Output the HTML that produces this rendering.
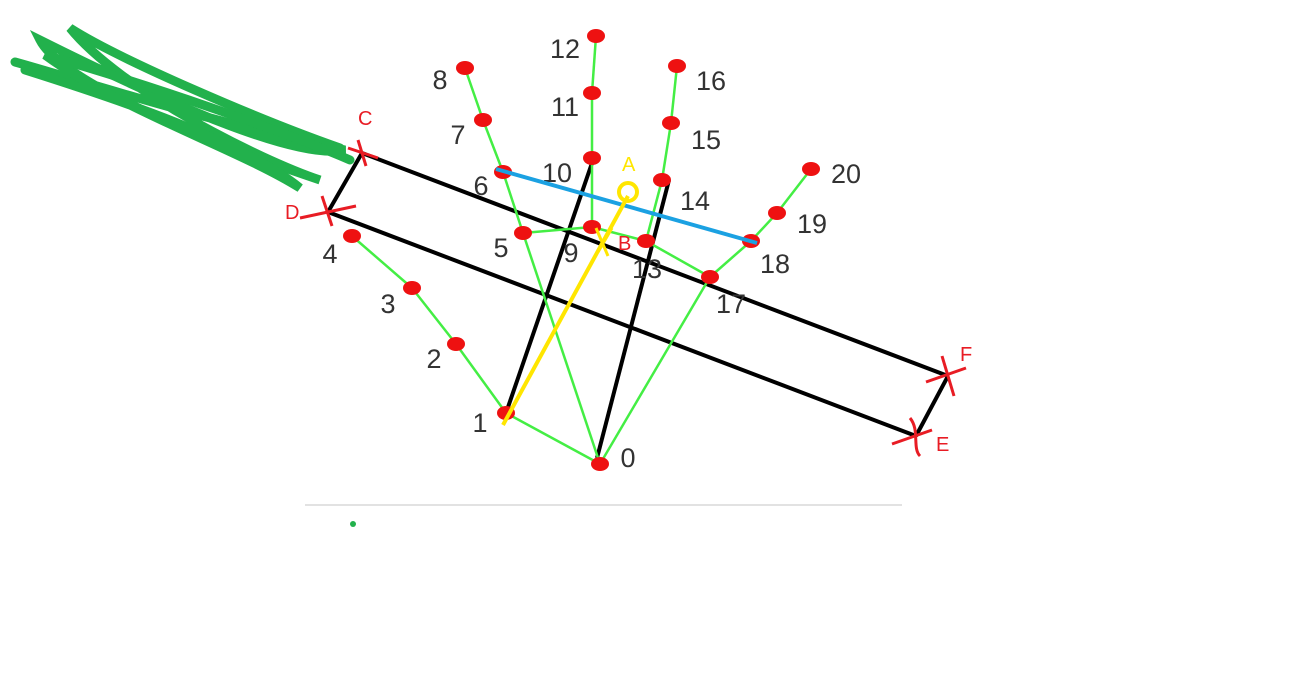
<!DOCTYPE html>
<html><head><meta charset="utf-8"><style>
html,body{margin:0;padding:0;background:#fff;}
svg{display:block;font-family:"Liberation Sans",sans-serif;}
</style></head><body>
<svg id="chart" width="1292" height="694" viewBox="0 0 1292 694">
<line x1="305" y1="505" x2="902" y2="505" stroke="#e2e2e2" stroke-width="2"/>
<circle cx="353" cy="524" r="3" fill="#22b14c"/>
<g id="scribble" fill="none" stroke="#22b14c" stroke-width="9" stroke-linecap="round">
<path d="M15,62 C80,80 200,120 345,150 C300,160 180,110 40,40 C60,80 200,140 320,180 C260,160 120,90 70,28 C120,60 260,120 340,148"/>
<path d="M25,70 C120,100 240,140 300,188 C240,150 120,110 45,55 C150,85 280,130 350,160"/>
</g>
<g stroke="#000" stroke-width="4">
<line x1="362" y1="153" x2="948" y2="376"/>
<line x1="328" y1="212" x2="916" y2="436"/>
<line x1="362" y1="153" x2="328" y2="212"/>
<line x1="948" y1="376" x2="916" y2="436"/>
<line x1="506" y1="413" x2="592" y2="163"/>
<line x1="597" y1="458" x2="669" y2="180"/>
</g>
<g id="bones"></g>
<g id="joints"></g>
<g id="labels"></g>
<line x1="496" y1="169" x2="757" y2="243" stroke="#1ba1e2" stroke-width="4"/>
<line x1="503" y1="425" x2="628" y2="196" stroke="#ffe600" stroke-width="4"/>
<circle cx="628" cy="192" r="9" fill="none" stroke="#ffe600" stroke-width="4"/>
<g stroke="#ffe600" stroke-width="3"><line x1="596" y1="228" x2="608" y2="256"/><line x1="612" y1="228" x2="598" y2="252"/></g>
<g stroke="#e81c24" stroke-width="3">
<line x1="348" y1="148" x2="378" y2="158"/><line x1="358" y1="140" x2="366" y2="166"/>
<line x1="300" y1="218" x2="356" y2="206"/><line x1="322" y1="196" x2="332" y2="226"/>
<line x1="926" y1="382" x2="966" y2="368"/><line x1="942" y1="356" x2="954" y2="396"/>
<line x1="892" y1="444" x2="932" y2="430"/><path d="M910,418 C920,430 912,448 920,456" fill="none"/>
</g>
<g font-size="20">
<text x="358" y="125" fill="#e81c24">C</text>
<text x="285" y="219" fill="#e81c24">D</text>
<text x="960" y="361" fill="#e81c24">F</text>
<text x="936" y="451" fill="#e81c24">E</text>
<text x="622" y="171" fill="#ffe600">A</text>
<text x="618" y="250" fill="#e81c24">B</text>
</g>
</svg>
<script>
const jointX=[600,506,456,412,352,523,503,483,465,592,592,592,596,646,662,671,677,710,751,777,811];
const jointY=[464,413,344,288,236,233,172,120,68,227,158,93,36,241,180,123,66,277,241,213,169];
const labelX=[628,480,434,388,330,501,481,458,440,571,557,565,565,647,695,706,711,731,775,812,846];
const labelY=[457,422,358,303,253,247,185,134,79,252,172,106,48,268,200,139,80,303,263,223,173];
const bonesA=[0,1,2,3,0,5,6,7,5,9,10,11,9,13,14,15,13,0,17,18,19];
const bonesB=[1,2,3,4,5,6,7,8,9,10,11,12,13,14,15,16,17,17,18,19,20];
const NS="http://www.w3.org/2000/svg";
const bg=document.getElementById('bones'),jg=document.getElementById('joints'),lg=document.getElementById('labels');
for(let i=0;i<bonesA.length;i++){
 const l=document.createElementNS(NS,'line');
 l.setAttribute('x1',jointX[bonesA[i]]);l.setAttribute('y1',jointY[bonesA[i]]);
 l.setAttribute('x2',jointX[bonesB[i]]);l.setAttribute('y2',jointY[bonesB[i]]);
 l.setAttribute('stroke','#44ee44');l.setAttribute('stroke-width','2.5');
 
 
 bg.appendChild(l);
}
for(let i=0;i<jointX.length;i++){
 const c=document.createElementNS(NS,'ellipse');
 c.setAttribute('cx',jointX[i]);c.setAttribute('cy',jointY[i]);
 c.setAttribute('rx',9);c.setAttribute('ry',7);c.setAttribute('fill','#ee1111');
 
 
 jg.appendChild(c);
 const t=document.createElementNS(NS,'text');
 t.setAttribute('x',labelX[i]);t.setAttribute('y',labelY[i]+10);
 t.setAttribute('text-anchor','middle');t.setAttribute('font-size','27');t.setAttribute('fill','#333');
 t.textContent=String(i);
 
 
 lg.appendChild(t);
}
</script>
</body></html>
